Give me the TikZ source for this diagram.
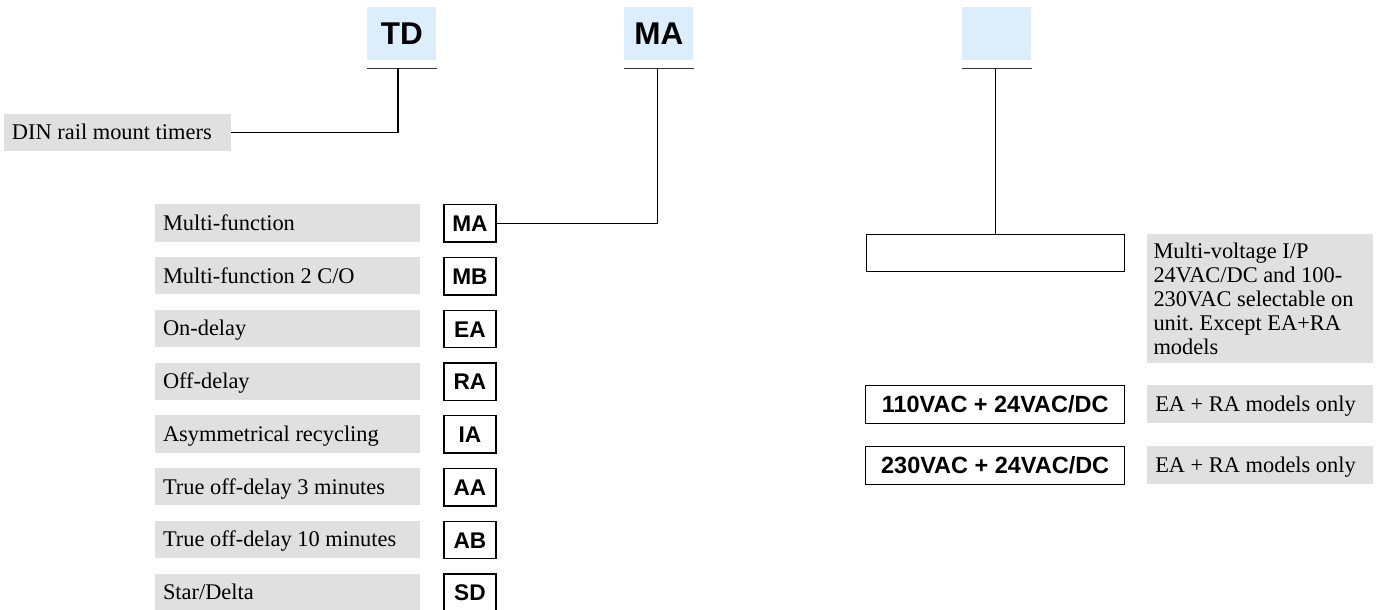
\documentclass[tikz,border=0pt]{standalone}
\usepackage{fontspec}
\setmainfont{Liberation Serif}
\setsansfont{Liberation Sans}
\definecolor{hdrblue}{HTML}{DCEEFB}
\definecolor{lblgrey}{HTML}{E0E0E0}
\definecolor{ulgrey}{HTML}{333333}
\frenchspacing
\begin{document}
\begin{tikzpicture}[x=0.75pt,y=-0.75pt,
  tightws/.style={execute at begin node={\spaceskip=0.25em plus 0.1em minus 0.05em\relax\xspaceskip=0.25em\relax}},
  hdr/.style={fill=hdrblue, anchor=north west, minimum width=51.75pt, minimum height=40pt, inner sep=0pt,
    text height=16.9pt, text depth=0pt, font=\sffamily\bfseries\fontsize{23.6}{28}\selectfont},
  uline/.style={draw=ulgrey, line width=1.1pt},
  conn/.style={draw=black, line width=0.8pt},
  lbl/.style={fill=lblgrey, anchor=north west, minimum height=28.1pt, text width=187pt, inner xsep=5.8pt,
    inner ysep=0pt, text height=11.1pt, text depth=0pt, font=\fontsize{16.8}{18}\selectfont, tightws},
  code/.style={draw=black, line width=1pt, fill=white, anchor=north west, minimum width=39pt, minimum height=28.1pt,
    inner sep=0pt, text height=12.2pt, text depth=0pt, font=\sffamily\bfseries\fontsize{17}{20}\selectfont},
  volt/.style={draw=black, line width=1pt, anchor=north west, minimum width=194.25pt, minimum height=28.3pt,
    inner sep=0pt, text height=12.6pt, text depth=0pt, font=\sffamily\bfseries\fontsize{17.6}{20}\selectfont},
  note/.style={fill=lblgrey, anchor=north west, minimum height=28.3pt, text width=157.5pt, inner xsep=6pt,
    inner ysep=0pt, text height=11.1pt, text depth=0pt, font=\fontsize{16.8}{18}\selectfont, tightws}
]
\useasboundingbox (0,0) rectangle (1378,610);

% headers
\node[hdr] (td) at (367,6.7) {TD};
\node[hdr] (ma) at (624,6.7) {MA};
\node[hdr] (vh) at (962,6.7) {};
\draw[uline] ([yshift=-6pt]td.south west) -- ([yshift=-6pt]td.south east);
\draw[uline] ([yshift=-6pt]ma.south west) -- ([yshift=-6pt]ma.south east);
\draw[uline] ([yshift=-6pt]vh.south west) -- ([yshift=-6pt]vh.south east);
\coordinate (tdj) at (398,68);
\coordinate (maj) at (657.5,68);
\coordinate (vhj) at (995.5,68);

% DIN
\node[fill=lblgrey, anchor=north west, minimum height=28pt, text width=158.6pt, inner xsep=5.8pt, inner ysep=0pt,
  text height=11.1pt, text depth=0pt, font=\fontsize{16.8}{18}\selectfont, tightws] (din) at (4,113.3) {DIN rail mount timers};
\draw[conn] (din.east) -| (tdj);

% function list
\node[lbl] (l1) at (155,204) {Multi-function};
\node[lbl] (l2) at (155,256.75) {Multi-function 2 C/O};
\node[lbl] (l3) at (155,309.5) {On-delay};
\node[lbl] (l4) at (155,362.25) {Off-delay};
\node[lbl] (l5) at (155,415) {Asymmetrical recycling};
\node[lbl] (l6) at (155,467.75) {True off-delay 3 minutes};
\node[lbl] (l7) at (155,520.5) {True off-delay 10 minutes};
\node[lbl] (l8) at (155,573.25) {Star/Delta};

\node[code] (c1) at (443.3,204) {MA};
\node[code] (c2) at (443.3,256.75) {MB};
\node[code] (c3) at (443.3,309.5) {EA};
\node[code] (c4) at (443.3,362.25) {RA};
\node[code] (c5) at (443.3,415) {IA};
\node[code] (c6) at (443.3,467.75) {AA};
\node[code] (c7) at (443.3,520.5) {AB};
\node[code] (c8) at (443.3,573.25) {SD};
\draw[conn] (c1.east) -| (maj);

% voltage
\node[draw=black, line width=1pt, anchor=north west, minimum width=193.5pt, minimum height=27.75pt, inner sep=0pt] (vbox) at (866,234) {};
\draw[conn] (vhj) -- (vhj |- vbox.north);
\node[fill=lblgrey, anchor=north west, text width=160.1pt, inner xsep=4.7pt, inner ysep=0pt,
  minimum height=96.75pt, font=\fontsize{16.8}{18}\selectfont, tightws] (vnote) at (1147,234)
  {Multi-voltage I/P\\24VAC/DC and 100-\\230VAC selectable on\\unit. Except EA+RA\\models};

\node[volt] (v110) at (865,385) {110VAC + 24VAC/DC};
\node[volt] (v230) at (865,446) {230VAC + 24VAC/DC};
\node[note] (n110) at (1147,385) {EA + RA models only};
\node[note] (n230) at (1147,446) {EA + RA models only};
\end{tikzpicture}
\end{document}
